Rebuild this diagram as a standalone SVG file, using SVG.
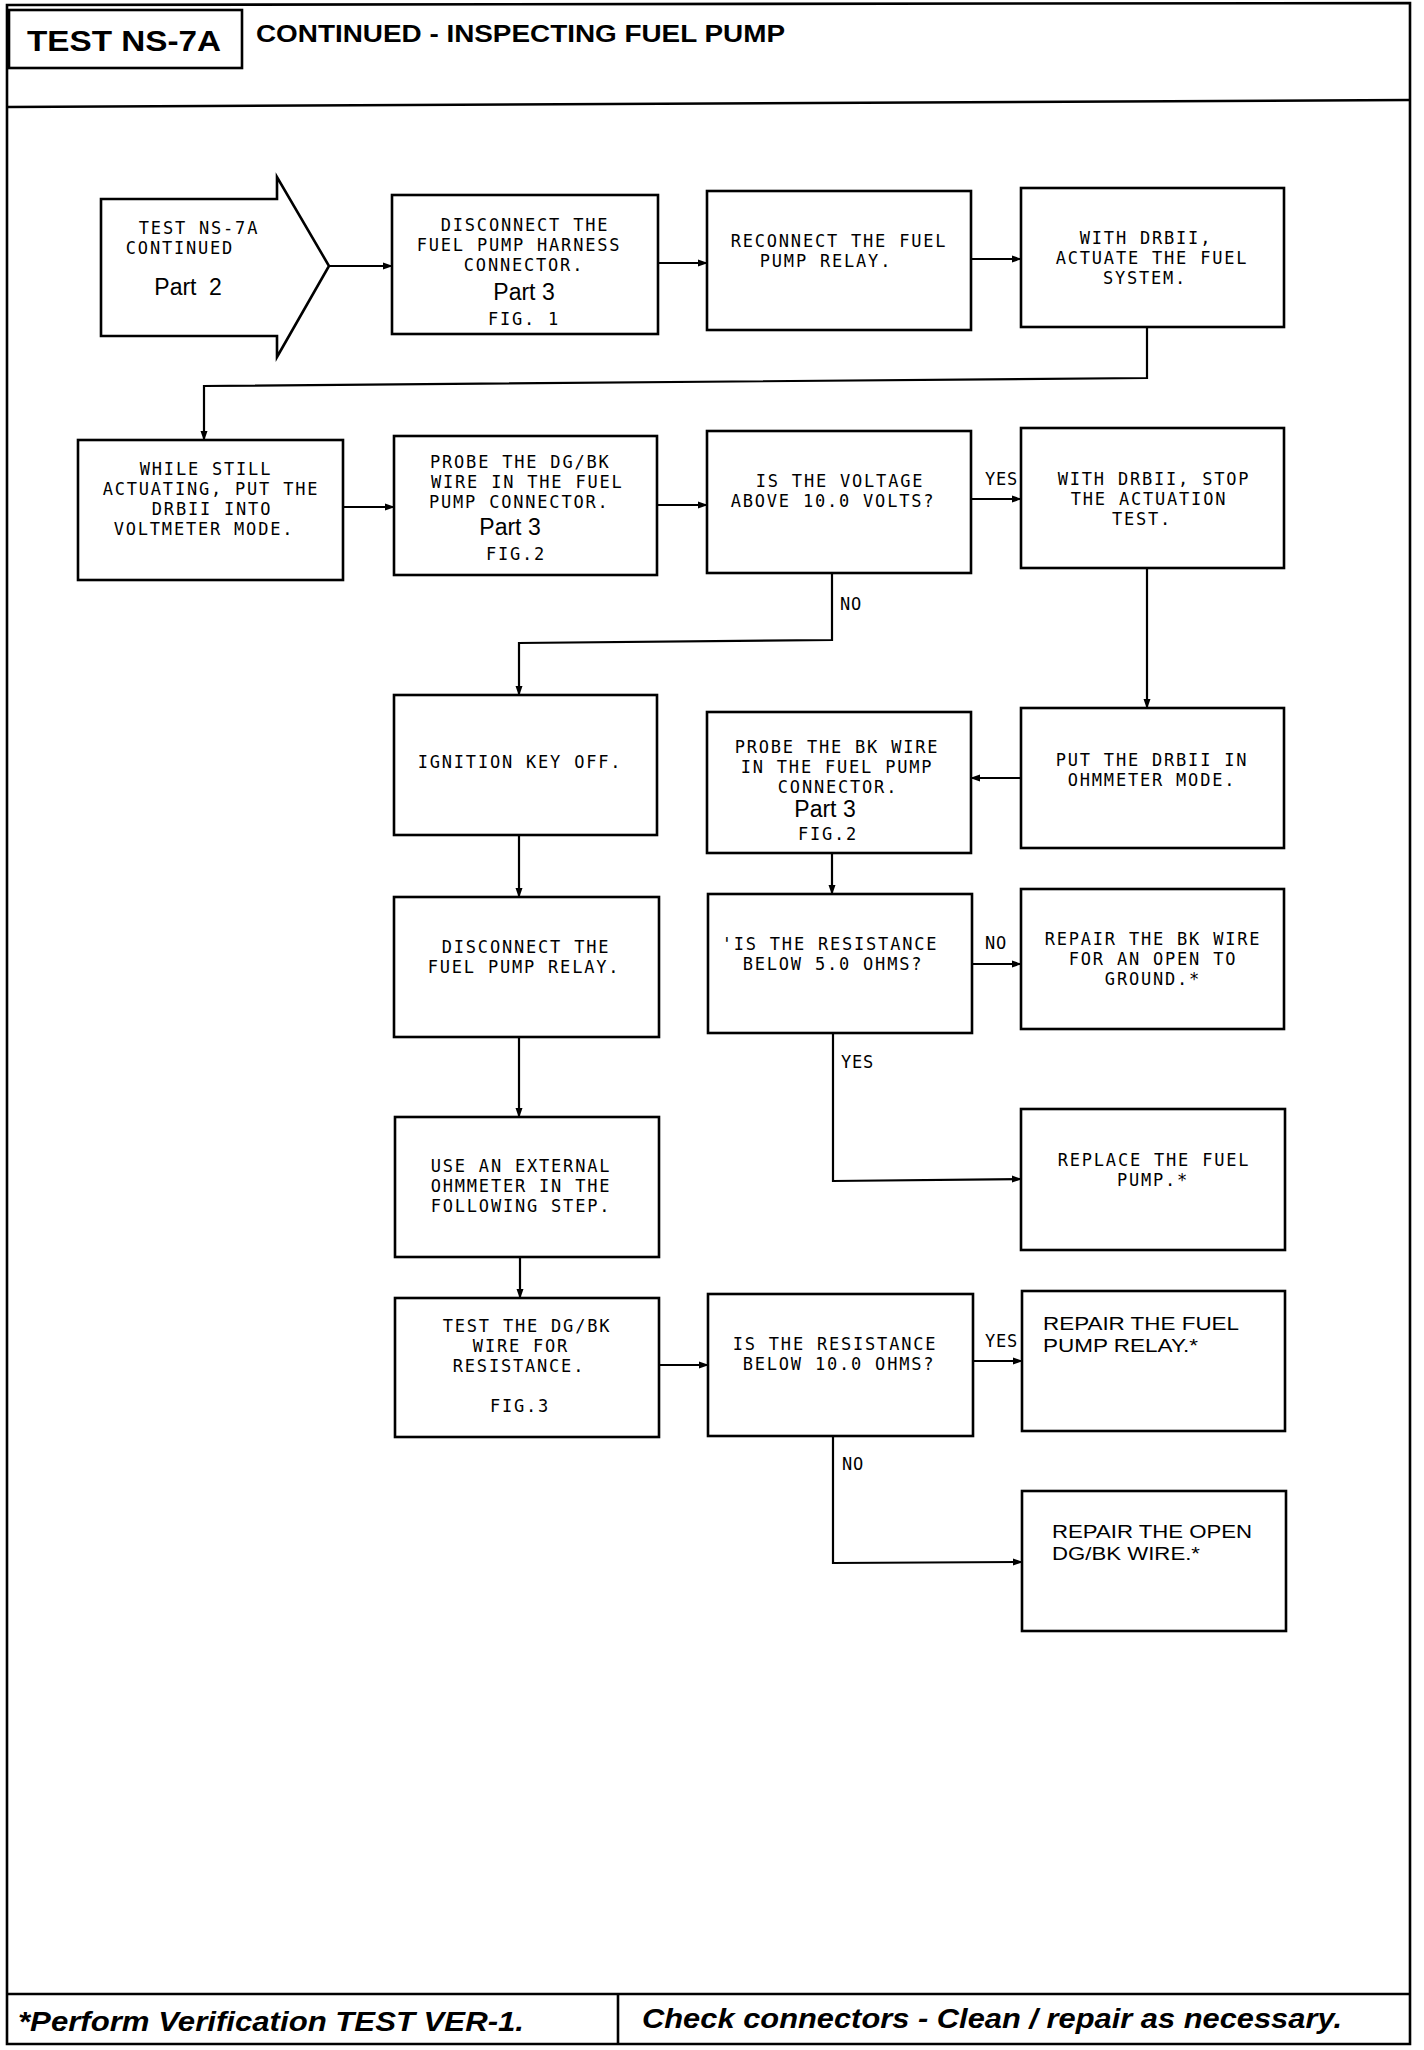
<svg xmlns="http://www.w3.org/2000/svg" width="1424" height="2050" viewBox="0 0 1424 2050">
<style>
.frame{fill:none;stroke:#000;stroke-width:2.6}
.box{fill:#fff;stroke:#000;stroke-width:2.6}
.t{font-family:"DejaVu Sans Mono","Liberation Mono",monospace;font-size:17px;letter-spacing:1.8px;fill:#000;text-anchor:middle}
.ts{font-family:"DejaVu Sans Mono","Liberation Mono",monospace;font-size:17px;letter-spacing:1.8px;fill:#000;text-anchor:start}
.lbl{font-family:"DejaVu Sans Mono","Liberation Mono",monospace;font-size:17px;letter-spacing:0.8px;fill:#000}
.p{font-family:"Liberation Sans",Arial,sans-serif;font-size:23px;letter-spacing:0;text-anchor:middle}
.r{font-family:"Liberation Sans",Arial,sans-serif;font-size:19px;fill:#000}
.hb{font-family:"Liberation Sans",Arial,sans-serif;font-weight:bold;fill:#000}
.fi{font-family:"Liberation Sans",Arial,sans-serif;font-weight:bold;font-style:italic;font-size:28px;fill:#000}
.c{fill:none;stroke:#000;stroke-width:2.2}
</style>
<defs>
<marker id="ah" markerWidth="10" markerHeight="8" refX="9" refY="4" orient="auto" markerUnits="userSpaceOnUse">
<path d="M0,0.5 L10,4 L0,7.5 z" fill="#000"/>
</marker>
</defs>
<rect width="1424" height="2050" fill="#fff"/>

<g id="frame">
<path class="frame" d="M7,5 L1410,3 L1410,2044 L7,2044 Z"/>
<path class="frame" d="M7,107 L1410,100"/>
<path class="frame" d="M7,1994 L1410,1994"/>
<path class="frame" d="M618,1994 L618,2044"/>
</g>

<g id="header">
<rect class="frame" x="9" y="10" width="233" height="58"/>
<text class="hb" x="27" y="51" font-size="30" textLength="194" lengthAdjust="spacingAndGlyphs">TEST NS-7A</text>
<text class="hb" x="256" y="42" font-size="23" textLength="529" lengthAdjust="spacingAndGlyphs">CONTINUED - INSPECTING FUEL PUMP</text>
</g>

<g id="footer">
<text class="fi" x="18" y="2031" textLength="506" lengthAdjust="spacingAndGlyphs">*Perform Verification TEST VER-1.</text>
<text class="fi" x="642" y="2028" textLength="700" lengthAdjust="spacingAndGlyphs">Check connectors - Clean / repair as necessary.</text>
</g>

<g id="connectors">
<path class="c" d="M329,266 L392,266" marker-end="url(#ah)"/>
<path class="c" d="M658,263 L707,263" marker-end="url(#ah)"/>
<path class="c" d="M971,259 L1021,259" marker-end="url(#ah)"/>
<path class="c" d="M1147,327 L1147,378 L204,386 L204,440" marker-end="url(#ah)"/>
<path class="c" d="M343,507 L394,507" marker-end="url(#ah)"/>
<path class="c" d="M657,505 L707,505" marker-end="url(#ah)"/>
<path class="c" d="M971,499 L1021,499" marker-end="url(#ah)"/>
<path class="c" d="M832,573 L832,640 L519,643 L519,695" marker-end="url(#ah)"/>
<path class="c" d="M1147,568 L1147,708" marker-end="url(#ah)"/>
<path class="c" d="M1021,778 L971,778" marker-end="url(#ah)"/>
<path class="c" d="M519,835 L519,897" marker-end="url(#ah)"/>
<path class="c" d="M832,853 L832,894" marker-end="url(#ah)"/>
<path class="c" d="M972,964 L1021,964" marker-end="url(#ah)"/>
<path class="c" d="M833,1033 L833,1181 L1021,1179" marker-end="url(#ah)"/>
<path class="c" d="M519,1037 L519,1117" marker-end="url(#ah)"/>
<path class="c" d="M520,1257 L520,1298" marker-end="url(#ah)"/>
<path class="c" d="M659,1365 L708,1365" marker-end="url(#ah)"/>
<path class="c" d="M973,1361 L1022,1361" marker-end="url(#ah)"/>
<path class="c" d="M833,1436 L833,1563 L1022,1562" marker-end="url(#ah)"/>
<text class="lbl" x="985" y="485">YES</text>
<text class="lbl" x="840" y="610">NO</text>
<text class="lbl" x="985" y="949">NO</text>
<text class="lbl" x="841" y="1068">YES</text>
<text class="lbl" x="985" y="1347">YES</text>
<text class="lbl" x="842" y="1470">NO</text>
</g>

<g id="n0">
<path class="box" d="M101,199 L277,199 L277,177 L329,266 L277,357 L277,336 L101,336 Z"/>
<text class="t"><tspan x="199" y="234">TEST NS-7A</tspan><tspan x="180" y="254">CONTINUED</tspan><tspan class="p" x="188" y="295" word-spacing="6">Part 2</tspan></text>
</g>

<g id="n1">
<rect class="box" x="392" y="195" width="266" height="139"/>
<text class="t"><tspan x="525" y="231">DISCONNECT THE</tspan><tspan x="519" y="251">FUEL PUMP HARNESS</tspan><tspan x="524" y="271">CONNECTOR.</tspan><tspan class="p" x="524" y="300">Part 3</tspan><tspan x="524" y="325">FIG. 1</tspan></text>
</g>

<g id="n2">
<rect class="box" x="707" y="191" width="264" height="139"/>
<text class="t"><tspan x="839" y="247">RECONNECT THE FUEL</tspan><tspan x="826" y="267">PUMP RELAY.</tspan></text>
</g>

<g id="n3">
<rect class="box" x="1021" y="188" width="263" height="139"/>
<text class="t"><tspan x="1146" y="244">WITH DRBII,</tspan><tspan x="1152" y="264">ACTUATE THE FUEL</tspan><tspan x="1145" y="284">SYSTEM.</tspan></text>
</g>

<g id="n4">
<rect class="box" x="78" y="440" width="265" height="140"/>
<text class="t"><tspan x="206" y="475">WHILE STILL</tspan><tspan x="211" y="495">ACTUATING, PUT THE</tspan><tspan x="212" y="515">DRBII INTO</tspan><tspan x="204" y="535">VOLTMETER MODE.</tspan></text>
</g>

<g id="n5">
<rect class="box" x="394" y="436" width="263" height="139"/>
<text class="ts"><tspan x="430" y="468">PROBE THE DG/BK</tspan><tspan x="431" y="488">WIRE IN THE FUEL</tspan><tspan x="429" y="508">PUMP CONNECTOR.</tspan><tspan class="p" x="510" y="535">Part 3</tspan><tspan x="516" y="560" text-anchor="middle">FIG.2</tspan></text>
</g>

<g id="n6">
<rect class="box" x="707" y="431" width="264" height="142"/>
<text class="t"><tspan x="840" y="487">IS THE VOLTAGE</tspan><tspan x="833" y="507">ABOVE 10.0 VOLTS?</tspan></text>
</g>

<g id="n7">
<rect class="box" x="1021" y="428" width="263" height="140"/>
<text class="t"><tspan x="1154" y="485">WITH DRBII, STOP</tspan><tspan x="1149" y="505">THE ACTUATION</tspan><tspan x="1142" y="525">TEST.</tspan></text>
</g>

<g id="n8">
<rect class="box" x="394" y="695" width="263" height="140"/>
<text class="t" x="520" y="768">IGNITION KEY OFF.</text>
</g>

<g id="n9">
<rect class="box" x="707" y="712" width="264" height="141"/>
<text class="t"><tspan x="837" y="753">PROBE THE BK WIRE</tspan><tspan x="837" y="773">IN THE FUEL PUMP</tspan><tspan x="838" y="793">CONNECTOR.</tspan><tspan class="p" x="825" y="817" font-size="21">Part 3</tspan><tspan x="828" y="840">FIG.2</tspan></text>
</g>

<g id="n10">
<rect class="box" x="1021" y="708" width="263" height="140"/>
<text class="t"><tspan x="1152" y="766">PUT THE DRBII IN</tspan><tspan x="1152" y="786">OHMMETER MODE.</tspan></text>
</g>

<g id="n11">
<rect class="box" x="394" y="897" width="265" height="140"/>
<text class="t"><tspan x="526" y="953">DISCONNECT THE</tspan><tspan x="524" y="973">FUEL PUMP RELAY.</tspan></text>
</g>

<g id="n12">
<rect class="box" x="708" y="894" width="264" height="139"/>
<text class="t"><tspan x="830" y="950">'IS THE RESISTANCE</tspan><tspan x="833" y="970">BELOW 5.0 OHMS?</tspan></text>
</g>

<g id="n13">
<rect class="box" x="1021" y="889" width="263" height="140"/>
<text class="t"><tspan x="1153" y="945">REPAIR THE BK WIRE</tspan><tspan x="1153" y="965">FOR AN OPEN TO</tspan><tspan x="1153" y="985">GROUND.*</tspan></text>
</g>

<g id="n14">
<rect class="box" x="395" y="1117" width="264" height="140"/>
<text class="t"><tspan x="521" y="1172">USE AN EXTERNAL</tspan><tspan x="521" y="1192">OHMMETER IN THE</tspan><tspan x="521" y="1212">FOLLOWING STEP.</tspan></text>
</g>

<g id="n15">
<rect class="box" x="1021" y="1109" width="264" height="141"/>
<text class="t"><tspan x="1154" y="1166">REPLACE THE FUEL</tspan><tspan x="1153" y="1186">PUMP.*</tspan></text>
</g>

<g id="n16">
<rect class="box" x="395" y="1298" width="264" height="139"/>
<text class="t"><tspan x="527" y="1332">TEST THE DG/BK</tspan><tspan x="521" y="1352">WIRE FOR</tspan><tspan x="519" y="1372">RESISTANCE.</tspan><tspan x="520" y="1412">FIG.3</tspan></text>
</g>

<g id="n17">
<rect class="box" x="708" y="1294" width="265" height="142"/>
<text class="t"><tspan x="835" y="1350">IS THE RESISTANCE</tspan><tspan x="839" y="1370">BELOW 10.0 OHMS?</tspan></text>
</g>

<g id="n18">
<rect class="box" x="1022" y="1291" width="263" height="140"/>
<text class="r"><tspan x="1043" y="1330" textLength="196" lengthAdjust="spacingAndGlyphs">REPAIR THE FUEL</tspan><tspan x="1043" y="1352" textLength="155" lengthAdjust="spacingAndGlyphs">PUMP RELAY.*</tspan></text>
</g>

<g id="n19">
<rect class="box" x="1022" y="1491" width="264" height="140"/>
<text class="r"><tspan x="1052" y="1538" textLength="200" lengthAdjust="spacingAndGlyphs">REPAIR THE OPEN</tspan><tspan x="1052" y="1560" textLength="148" lengthAdjust="spacingAndGlyphs">DG/BK WIRE.*</tspan></text>
</g>
</svg>
